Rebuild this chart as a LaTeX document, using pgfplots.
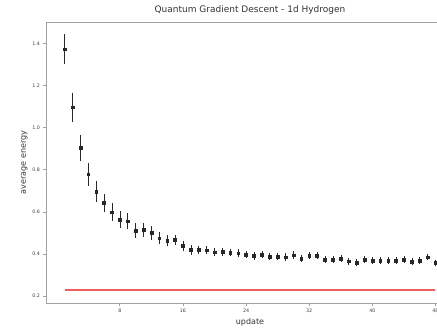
\documentclass[border=0pt]{standalone}
\usepackage{pgfplots}
\pgfplotsset{compat=1.18}
\usepackage{pgfplotstable}
\usepackage{fontspec}
\setmainfont{DejaVu Sans}
\definecolor{spine}{RGB}{160,160,160}
\definecolor{redline}{RGB}{240,95,95}
\definecolor{pt}{RGB}{40,40,40}
\pgfplotstableread{
x y e
1 1.373 0.068
2 1.097 0.065
3 0.905 0.058
4 0.779 0.050
5 0.697 0.045
6 0.642 0.040
7 0.598 0.038
8 0.562 0.036
9 0.556 0.035
10 0.510 0.032
11 0.515 0.030
12 0.500 0.028
13 0.475 0.026
14 0.464 0.024
15 0.466 0.022
16 0.439 0.020
17 0.419 0.018
18 0.419 0.017
19 0.418 0.016
20 0.408 0.015
21 0.410 0.015
22 0.407 0.015
23 0.404 0.015
24 0.397 0.014
25 0.391 0.014
26 0.397 0.014
27 0.388 0.014
28 0.388 0.014
29 0.385 0.014
30 0.394 0.014
31 0.379 0.013
32 0.391 0.013
33 0.391 0.013
34 0.373 0.013
35 0.373 0.013
36 0.379 0.013
37 0.366 0.013
38 0.360 0.013
39 0.373 0.013
40 0.369 0.012
41 0.369 0.012
42 0.369 0.012
43 0.369 0.012
44 0.373 0.012
45 0.363 0.012
46 0.369 0.012
47 0.385 0.012
48 0.357 0.012
}\energy
\begin{document}
\begin{tikzpicture}
\begin{axis}[
  scale only axis,
  width=408pt, height=281pt,
  xmin=-1.35, xmax=50.35,
  ymin=0.167, ymax=1.502,
  xtick={8,16,24,32,40,48},
  ytick={0.2,0.4,0.6,0.8,1.0,1.2,1.4},
  yticklabel style={/pgf/number format/fixed,/pgf/number format/precision=1,/pgf/number format/fixed zerofill},
  /pgf/number format/assume math mode=true,
  tick label style={font=\fontsize{4.8}{5}\selectfont, text=black!75},
  tick align=outside, tick pos=left,
  major tick length=2.5pt,
  every tick/.style={spine, line width=0.6pt},
  axis line style={spine, line width=0.8pt},
  title={Quantum Gradient Descent - 1d Hydrogen},
  title style={font=\fontsize{9}{10}\selectfont, text=black!80, yshift=-2pt},
  xlabel={update},
  ylabel={average energy},
  label style={font=\fontsize{8}{9}\selectfont, text=black!80},
  xlabel style={yshift=1pt},
  ylabel style={yshift=-2pt},
]
\addplot[redline, line width=1.8pt, no marks] coordinates {(1,0.228) (48,0.228)};
\addplot[pt, only marks, mark=square*, mark size=1.4pt,
  error bars/.cd, y dir=both, y explicit,
  error bar style={pt, line width=0.5pt},
  error mark options={mark size=0.8pt, pt, line width=0.5pt}]
  table[x=x, y=y, y error=e] {\energy};
\end{axis}
\pgfresetboundingbox
\path[use as bounding box] ([shift={(-46pt,-27pt)}]current axis.south west) rectangle ([shift={(391pt,303pt)}]current axis.south west);
\end{tikzpicture}
\end{document}
